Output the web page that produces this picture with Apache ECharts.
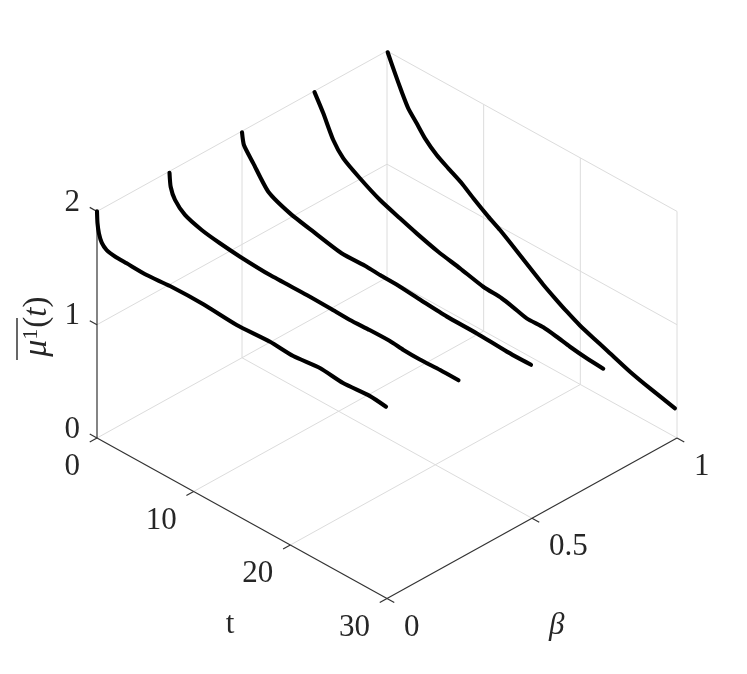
<!DOCTYPE html>
<html><head><meta charset="utf-8">
<style>html,body{margin:0;padding:0;background:#fff}#c{width:747px;height:674px}</style>
<script src="https://cdn.jsdelivr.net/npm/echarts@6/dist/echarts.min.js"></script>
</head><body><div id="c"></div>
<script>
const betaLevels = [0, 0.25, 0.5, 0.75, 1];
const tTicks = [0, 10, 20, 30];
const betaTicks = [0, 0.5, 1];
const muTicks = [0, 1, 2];

const t0 = [0,0.05,0.2,0.5,1,1.86,3.07,5.14,7.55,11,14.45,17.9,20.3,23.1,25.45,28.2,29.9];
const mu0 = [2,1.9,1.816,1.745,1.706,1.69,1.687,1.681,1.698,1.7,1.68,1.695,1.682,1.706,1.687,1.703,1.688];
const t25 = [0,0.12,0.57,1.6,3.33,5.22,7.3,10.4,14.2,16.6,18.67,20.7,22.8,24.2,25.9,28,29.9];
const mu25 = [1.987,1.869,1.774,1.69,1.639,1.611,1.591,1.575,1.579,1.575,1.569,1.576,1.578,1.566,1.562,1.568,1.567];
const t50 = [0,0.2,1.17,2.72,4.97,7.38,10.3,12.9,14.28,16.35,18.75,21.2,24.3,27.4,29.9];
const mu50 = [1.99,1.887,1.771,1.594,1.509,1.461,1.409,1.413,1.404,1.399,1.38,1.364,1.362,1.348,1.35];
const t75 = [0,0.91,1.94,2.98,4.7,6.78,8.84,10.57,12.8,15.05,17.46,19.36,20.56,21.95,23.67,25.05,26.43,28.16,29.87];
const mu75 = [1.99,1.846,1.659,1.546,1.452,1.358,1.294,1.243,1.186,1.146,1.097,1.085,1.062,1.03,1.032,1.014,0.991,0.971,0.96];
const t100 = [0.07,0.83,1.52,2.2,3.07,3.93,5.14,6.34,7.73,8.93,10.48,11.69,13.42,15.13,16.17,17.38,18.59,19.96,21.34,22.73,25.14,27.21,29.79];
const mu100 = [1.991,1.841,1.711,1.597,1.506,1.414,1.324,1.263,1.197,1.121,1.032,0.971,0.868,0.762,0.7,0.637,0.578,0.519,0.474,0.432,0.356,0.306,0.252];
const curveT = [t0,t25,t50,t75,t100];
const curveMu = [mu0,mu25,mu50,mu75,mu100];

// isometric projection of (t, beta, mu) onto the page plane
function proj(t, b, m) {
  return [97 + t * 290 / 30 + b * 290, 438 + t * 160.5 / 30 - b * 160.5 - m * 113.3];
}
const series = [];
function seg(a, b, color, w) {
  series.push({type:'line', data:[proj(...a), proj(...b)], symbol:'none', silent:true, clip:false, z:w>1.05?3:1,
    lineStyle:{color, width:w}});
}
const GRID = '#dcdcdc', AX = '#333333', TXT = '#262626';
// floor and wall grid
[10,20].forEach(t => { seg([t,0,0],[t,1,0],GRID,1); seg([t,1,0],[t,1,2],GRID,1); });
seg([30,1,0],[30,1,2],GRID,1);
seg([0,1,0],[0,1,2],GRID,1);
seg([0,1,0],[30,1,0],GRID,1);
seg([0,0.5,0],[30,0.5,0],GRID,1);
seg([0,0.5,0],[0,0.5,2],GRID,1);
seg([0,0,0],[0,1,0],GRID,1);
[1,2].forEach(m => { seg([0,0,m],[0,1,m],GRID,1); seg([0,1,m],[30,1,m],GRID,1); });
// axis lines and ticks
seg([0,0,0],[30,0,0],AX,1.2);
seg([30,0,0],[30,1,0],AX,1.2);
seg([0,0,0],[0,0,2],AX,1.2);
tTicks.forEach(t => seg([t,0,0],[t,-0.025,0],AX,1.2));
betaTicks.forEach(b => seg([30,b,0],[30.75,b,0],AX,1.2));
muTicks.forEach(m => seg([0,0,m],[-0.75,0,m],AX,1.2));
// curves
betaLevels.forEach((b,i) => {
  series.push({type:'line', name:'beta='+b, data:curveT[i].map((t,j)=>proj(t,b,curveMu[i][j])),
    symbol:'none', silent:true, clip:false, z:5, smooth:0.2,
    lineStyle:{color:'#000', width:4.1, cap:'round', join:'round'}});
});
// labels
function label(pt, text, off, align, extra) {
  series.push({type:'scatter', data:[pt], symbolSize:1, silent:true, clip:false, z:6,
    itemStyle:{color:'transparent', opacity:1},
    label:Object.assign({show:true, position:'inside', formatter:text, offset:off, align, verticalAlign:'middle', opacity:1,
      fontFamily:'Liberation Serif', fontSize:31, color:TXT}, extra||{})});
}
tTicks.forEach(t => label(proj(t,0,0), String(t), [-17,29], 'right'));
betaTicks.forEach(b => label(proj(30,b,0), String(b), [17,29], 'left'));
muTicks.forEach(m => label(proj(0,0,m), String(m), [-17,-8.5], 'right'));
label(proj(13.76,0,-0.98), 't', [0,2], 'center');
label(proj(30,0.585,-1.05), 'β', [0,2], 'center', {fontStyle:'italic'});
label(proj(0,0,1), '{m|μ}{s|1}{p|(}{i|t}{p|)}', [-2,-60], 'center', {rotate:90,
  rich:{m:{fontFamily:'Liberation Serif',fontStyle:'italic',fontSize:34,color:TXT},
        s:{fontFamily:'Liberation Serif',fontSize:22,color:TXT,verticalAlign:'top',padding:[0,1,10,0]},
        p:{fontFamily:'Liberation Serif',fontSize:33,color:TXT},
        i:{fontFamily:'Liberation Serif',fontStyle:'italic',fontSize:33,color:TXT}}});

const chart = echarts.init(document.getElementById('c'), null, {renderer:'canvas'});
chart.setOption({
  animation:false, backgroundColor:'#fff',
  grid:{left:0, top:0, width:747, height:674},
  xAxis:{type:'value', min:0, max:747, show:false},
  yAxis:{type:'value', min:0, max:674, inverse:true, show:false},
  graphic:[{type:'line', shape:{x1:17, y1:318, x2:17, y2:360}, style:{stroke:TXT, lineWidth:1.4}}],
  series
});
</script></body></html>
